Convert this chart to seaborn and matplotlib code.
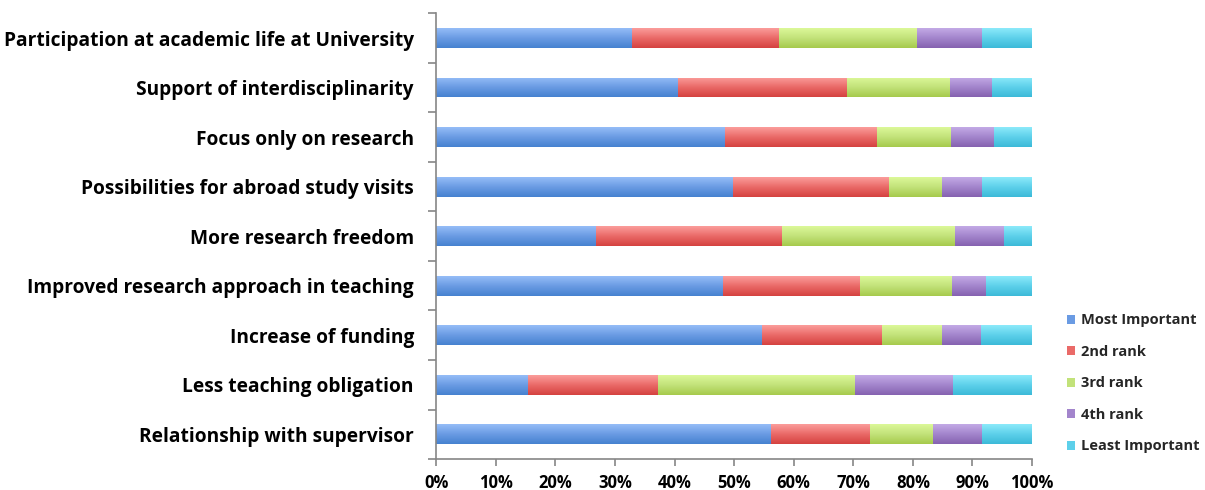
import numpy as np
import pandas as pd
import matplotlib
matplotlib.use("Agg")
import matplotlib.pyplot as plt
import seaborn as sns
from matplotlib.colors import LinearSegmentedColormap
from matplotlib.patches import Patch
from matplotlib.ticker import FixedLocator, PercentFormatter

categories = [
    "Participation at academic life at University",
    "Support of interdisciplinarity",
    "Focus only on research",
    "Possibilities for abroad study visits",
    "More research freedom",
    "Improved research approach in teaching",
    "Increase of funding",
    "Less teaching obligation",
    "Relationship with supervisor",
]
most_important = [32.8, 40.5, 48.4, 49.8, 26.8, 48.0, 54.6, 15.3, 56.2]
rank2 = [24.7, 28.4, 25.5, 26.1, 31.1, 23.1, 20.1, 21.8, 16.6]
rank3 = [23.1, 17.3, 12.4, 9.0, 29.1, 15.4, 10.2, 33.2, 10.5]
rank4 = [10.9, 7.0, 7.3, 6.6, 8.3, 5.8, 6.4, 16.4, 8.3]
least_important = [8.5, 6.8, 6.4, 8.5, 4.7, 7.7, 8.7, 13.3, 8.4]
series_names = ["Most Important", "2nd rank", "3rd rank", "4th rank", "Least Important"]
x_ticks = [0, 10, 20, 30, 40, 50, 60, 70, 80, 90, 100]

# top / middle / bottom gradient colours per series
grad = [
    ("#95bdf7", "#6a9be3", "#4682d0"),
    ("#fb9d9b", "#ea6a68", "#d54240"),
    ("#dcf899", "#c2e27a", "#a6ca4c"),
    ("#c3aae6", "#a385cc", "#8562b0"),
    ("#8ceafa", "#5dd0ea", "#3cbad8"),
]

df = pd.DataFrame({
    "category": categories,
    series_names[0]: most_important,
    series_names[1]: rank2,
    series_names[2]: rank3,
    series_names[3]: rank4,
    series_names[4]: least_important,
})
cum = df[series_names].cumsum(axis=1)

sns.set_theme(style="white")
plt.rcParams["font.family"] = ["Open Sans", "DejaVu Sans"]

fig, ax = plt.subplots(figsize=(12.05, 4.9), dpi=100)
fig.subplots_adjust(left=0.362, right=0.8565, top=0.973, bottom=0.063)

grad_arr = np.linspace(0, 1, 64).reshape(-1, 1)
layer = 0
for k in reversed(range(len(series_names))):
    name = series_names[k]
    n0 = len(ax.patches)
    sns.barplot(x=cum[name], y=df["category"], orient="h", color=grad[k][1],
                width=0.4, saturation=1, ax=ax, linewidth=0)
    cmap = LinearSegmentedColormap.from_list("g%d" % k, list(grad[k]))
    for p in ax.patches[n0:]:
        p.set_zorder(2 + layer * 0.1)
        x0 = p.get_x()
        w = p.get_width()
        y0 = p.get_y()
        h = p.get_height()
        im = ax.imshow(grad_arr, cmap=cmap, aspect="auto", origin="upper",
                       extent=(x0, x0 + w, y0 + h, y0), interpolation="bilinear",
                       zorder=2 + layer * 0.1 + 0.05)
        im.set_clip_path(p)
        p.set_facecolor("none")
        p.set_edgecolor("none")
    layer += 1

ax.set_xlim(0, 100)
ax.set_ylim(len(categories) - 0.5, -0.5)
ax.set_xlabel("")
ax.set_ylabel("")

ax.xaxis.set_major_locator(FixedLocator(x_ticks))
ax.xaxis.set_major_formatter(PercentFormatter(100, decimals=0))
ax.set_yticks(range(len(categories)))
ax.set_yticklabels(categories)
ax.yaxis.set_minor_locator(FixedLocator(np.arange(-0.5, len(categories), 1.0)))

gray = "#868686"
for s in ["top", "right"]:
    ax.spines[s].set_visible(False)
for s in ["left", "bottom"]:
    ax.spines[s].set_color(gray)
    ax.spines[s].set_linewidth(1.2)

ax.tick_params(axis="y", which="major", length=0, pad=16, labelsize=13.8)
ax.tick_params(axis="y", which="minor", length=6, width=1.2, color=gray, direction="out", left=True)
ax.tick_params(axis="x", which="major", length=5, width=1.2, color=gray, direction="out",
               bottom=True, pad=6, labelsize=12)
for lab in ax.get_yticklabels() + ax.get_xticklabels():
    lab.set_fontweight("bold")
    lab.set_color("black")
ax.grid(False)

handles = [Patch(facecolor=grad[k][1], edgecolor="none") for k in range(len(series_names))]
leg = ax.legend(handles, series_names, loc="center left", bbox_to_anchor=(1.036, 0.17),
                frameon=False, handlelength=0.6, handleheight=0.6, handletextpad=0.4,
                labelspacing=1.2, prop={"weight": "bold", "size": 10.5})

fig.savefig("out.png", dpi=100)
